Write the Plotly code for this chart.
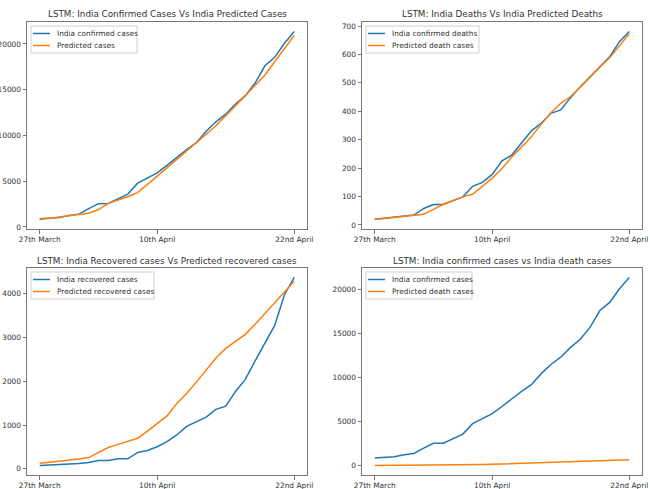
import plotly.graph_objects as go

# x positions (days from 27th March) and tick labels
days = list(range(27))
tick_pos = [0, 12, 26]
tick_labels = ["27th March", "10th April", "22nd April"]

# Chart 1: confirmed cases
confirmed = [887, 987, 1024, 1251, 1397, 1998, 2543, 2567, 3082, 3588, 4778, 5311, 5916,
             6725, 7598, 8446, 9205, 10453, 11487, 12322, 13430, 14352, 15722, 17615,
             18539, 20080, 21370]
pred_confirmed = [800, 950, 1080, 1210, 1340, 1500, 1900, 2580, 2950, 3300, 3750, 4600, 5550,
                  6450, 7350, 8250, 9150, 10100, 11050, 12150, 13300, 14350, 15450, 16600,
                  18050, 19550, 20950]

# Chart 2: deaths
deaths = [20, 24, 27, 32, 35, 58, 72, 72, 86, 99, 136, 150, 178, 226, 246, 288, 331, 358,
          393, 405, 448, 486, 521, 559, 592, 645, 681]
pred_deaths = [19, 23, 27, 31, 35, 38, 55, 73, 86, 99, 108, 136, 165, 199, 239, 274, 310,
               354, 395, 428, 452, 485, 521, 556, 588, 629, 673]

# Chart 3: recovered
recovered = [75, 84, 95, 102, 123, 148, 191, 192, 229, 229, 375, 421, 506, 620, 774, 969,
             1080, 1181, 1359, 1432, 1768, 2041, 2463, 2854, 3273, 3975, 4370]
pred_recovered = [128, 150, 172, 195, 225, 258, 380, 488, 560, 625, 700, 860, 1030, 1210,
                  1490, 1720, 1980, 2250, 2530, 2750, 2900, 3070, 3300, 3540, 3790, 4040, 4280]

titles = ["LSTM: India Confirmed Cases Vs India Predicted Cases",
          "LSTM: India Deaths Vs India Predicted Deaths",
          "LSTM: India Recovered cases Vs Predicted recovered cases",
          "LSTM: India confirmed cases vs India death cases"]

panels = [
    (confirmed, pred_confirmed, "India confirmed cases", "Predicted cases", [0, 5000, 10000, 15000, 20000]),
    (deaths, pred_deaths, "India confirmed deaths", "Predicted death cases", [0, 100, 200, 300, 400, 500, 600, 700]),
    (recovered, pred_recovered, "India recovered cases", "Predicted recovered cases", [0, 1000, 2000, 3000, 4000]),
    (confirmed, pred_deaths, "India confirmed cases", "Predicted death cases", [0, 5000, 10000, 15000, 20000]),
]

W, H = 650, 489
# pixel boxes of the four axes (left, right, top, bottom)
boxes = [(27, 307, 22, 229), (362, 642, 22, 229), (27, 307, 268, 475), (362, 642, 268, 475)]
legend_w = [106, 113, 123, 106]
title_y = [14, 14, 261, 261]

BLUE = "#1f77b4"
ORANGE = "#ff7f0e"
FONT = "DejaVu Sans"
TXT = "#333"

def px(x):
    return x / W

def py(y):
    return 1 - y / H

fig = go.Figure()
layout = dict(width=W, height=H, margin=dict(l=0, r=0, t=0, b=0),
              paper_bgcolor="white", plot_bgcolor="white", showlegend=False,
              font=dict(family=FONT, size=7.4, color=TXT))
annotations = []
shapes = []
for i, (a, b, la, lb, yt) in enumerate(panels):
    n = i + 1
    xa = "x" if n == 1 else f"x{n}"
    ya = "y" if n == 1 else f"y{n}"
    fig.add_trace(go.Scatter(x=days, y=a, mode="lines", name=la, line=dict(color=BLUE, width=1.5),
                             xaxis=xa, yaxis=ya))
    fig.add_trace(go.Scatter(x=days, y=b, mode="lines", name=lb, line=dict(color=ORANGE, width=1.5),
                             xaxis=xa, yaxis=ya))
    l, r, t, btm = boxes[i]
    lo = min(min(a), min(b)); hi = max(max(a), max(b)); pad = 0.05 * (hi - lo)
    axstyle = dict(showline=True, mirror=True, linecolor="#777", linewidth=1, ticks="outside",
                   ticklen=3.5, tickwidth=1, tickcolor="#777", showgrid=False, zeroline=False,
                   automargin=False, tickfont=dict(family=FONT, size=7.4, color=TXT))
    layout["xaxis" if n == 1 else f"xaxis{n}"] = dict(
        domain=[px(l), px(r)], anchor=ya, range=[-1.3, 27.3], tickvals=tick_pos,
        ticktext=tick_labels, **axstyle)
    layout["yaxis" if n == 1 else f"yaxis{n}"] = dict(
        domain=[py(btm), py(t)], anchor=xa, range=[lo - pad, hi + pad], tickvals=yt,
        ticktext=[str(v) for v in yt], **axstyle)
    # legend (box, sample lines, labels)
    shapes.append(dict(type="rect", xref="paper", yref="paper", x0=px(l + 4), x1=px(l + 4 + legend_w[i]),
                       y0=py(t + 4), y1=py(t + 31), line=dict(color="#d0d0d0", width=1),
                       fillcolor="rgba(255,255,255,0.85)", layer="above"))
    for k, (name, col) in enumerate([(la, BLUE), (lb, ORANGE)]):
        yy = t + 11.5 + 12 * k
        shapes.append(dict(type="line", xref="paper", yref="paper", x0=px(l + 6), x1=px(l + 23),
                           y0=py(yy), y1=py(yy), line=dict(color=col, width=1.5), layer="above"))
        annotations.append(dict(text=name, x=px(l + 28), y=py(yy), xref="paper", yref="paper",
                                xanchor="left", yanchor="middle", showarrow=False,
                                font=dict(family=FONT, size=7.4, color=TXT)))
    annotations.append(dict(text=titles[i], x=px((l + r) / 2), y=py(title_y[i]), xref="paper",
                            yref="paper", xanchor="center", yanchor="middle", showarrow=False,
                            font=dict(family=FONT, size=8.8, color=TXT)))
layout["annotations"] = annotations
layout["shapes"] = shapes
fig.update_layout(**layout)
fig.write_html("out.html", config={"displayModeBar": False},
               post_script="document.body.style.margin='0';document.body.style.overflow='hidden';")
